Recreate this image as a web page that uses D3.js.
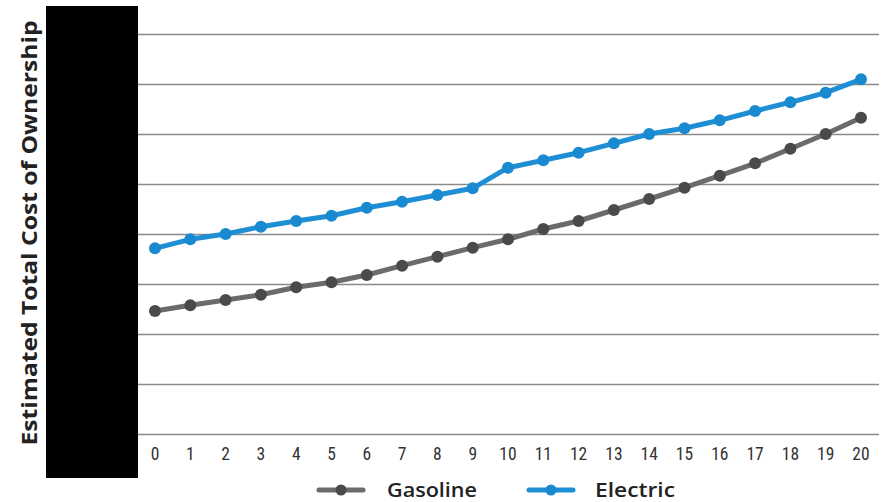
<!DOCTYPE html>
<html>
<head>
<meta charset="utf-8">
<script src="https://cdn.jsdelivr.net/npm/d3@7"></script>
<style>
  body { margin: 0; background: #fff; }
  svg { display: block; }
  .tick-label { font-family: "Liberation Sans Narrow", "Arial Narrow", "Roboto Condensed", sans-serif; font-size: 17.5px; fill: #333; }
  .ylabel, .legend-text { font-family: "Open Sans", "Noto Sans", sans-serif; font-weight: 700; fill: #222; }
  .legend-text { font-weight: 600; }
</style>
</head>
<body>
<svg id="chart" width="884" height="502"></svg>
<script>
  // years of ownership
  const years = d3.range(0, 21);

  // estimated total cost (units hidden in the original)
  const gasoline = [24600, 25740, 26800, 27860, 29340, 30340, 31800, 33660, 35460, 37260,
                    38940, 41000, 42600, 44800, 47000, 49260, 51660, 54140, 57060, 60000, 63260];
  const electric = [37140, 38940, 40000, 41460, 42600, 43660, 45260, 46460, 47800, 49140,
                    53260, 54740, 56260, 58140, 60000, 61140, 62740, 64600, 66340, 68260, 70940];

  const gridTicks = d3.range(0, 90000, 10000);

  const series = [
    { name: "Gasoline", values: gasoline, line: "#6b6b6b", dot: "#4a4a4a" },
    { name: "Electric", values: electric, line: "#1e8fd5", dot: "#1a8ad0" }
  ];

  const svg = d3.select("#chart");

  const x = d3.scaleLinear().domain([0, 20]).range([155, 861]);
  const y = d3.scaleLinear().domain([0, 80000]).range([434, 34]);

  // horizontal grid
  svg.append("g")
    .selectAll("line")
    .data(gridTicks)
    .join("line")
      .attr("x1", 138)
      .attr("x2", 879)
      .attr("y1", d => y(d) + 0.5)
      .attr("y2", d => y(d) + 0.5)
      .attr("stroke", "#8a8a8a")
      .attr("stroke-width", 1.3);

  // black box over the y tick labels
  svg.append("rect")
    .attr("x", 46).attr("y", 6)
    .attr("width", 92).attr("height", 472)
    .attr("fill", "#000");

  // x tick labels
  svg.append("g")
    .selectAll("text")
    .data(years)
    .join("text")
      .attr("class", "tick-label")
      .attr("x", d => x(d))
      .attr("y", 460)
      .attr("text-anchor", "middle")
      .text(d => d);

  // y label
  svg.append("text")
    .attr("class", "ylabel")
    .attr("transform", "translate(37,233) rotate(-90)")
    .attr("text-anchor", "middle")
    .attr("textLength", 425)
    .attr("lengthAdjust", "spacingAndGlyphs")
    .style("font-size", "21px")
    .text("Estimated Total Cost of Ownership");

  const line = d3.line()
    .x((d, i) => x(years[i]))
    .y(d => y(d));

  series.forEach(s => {
    const g = svg.append("g");
    g.append("path")
      .datum(s.values)
      .attr("d", line)
      .attr("fill", "none")
      .attr("stroke", s.line)
      .attr("stroke-width", 5)
      .attr("stroke-linejoin", "round");
    g.selectAll("circle")
      .data(s.values)
      .join("circle")
        .attr("cx", (d, i) => x(years[i]))
        .attr("cy", d => y(d))
        .attr("r", 6)
        .attr("fill", s.dot);
  });

  // legend
  const legendPos = [{ x: 319, tx: 387, w: 90 }, { x: 529, tx: 595, w: 80 }];
  series.forEach((s, i) => {
    const p = legendPos[i];
    const g = svg.append("g");
    g.append("line")
      .attr("x1", p.x).attr("x2", p.x + 44)
      .attr("y1", 490).attr("y2", 490)
      .attr("stroke", s.line)
      .attr("stroke-width", 5)
      .attr("stroke-linecap", "round");
    g.append("circle")
      .attr("cx", p.x + 22).attr("cy", 490)
      .attr("r", 5.5)
      .attr("fill", s.dot);
    g.append("text")
      .attr("class", "legend-text")
      .attr("x", p.tx)
      .attr("y", 497)
      .attr("textLength", p.w)
      .attr("lengthAdjust", "spacingAndGlyphs")
      .style("font-size", "19px")
      .text(s.name);
  });
</script>
</body>
</html>
